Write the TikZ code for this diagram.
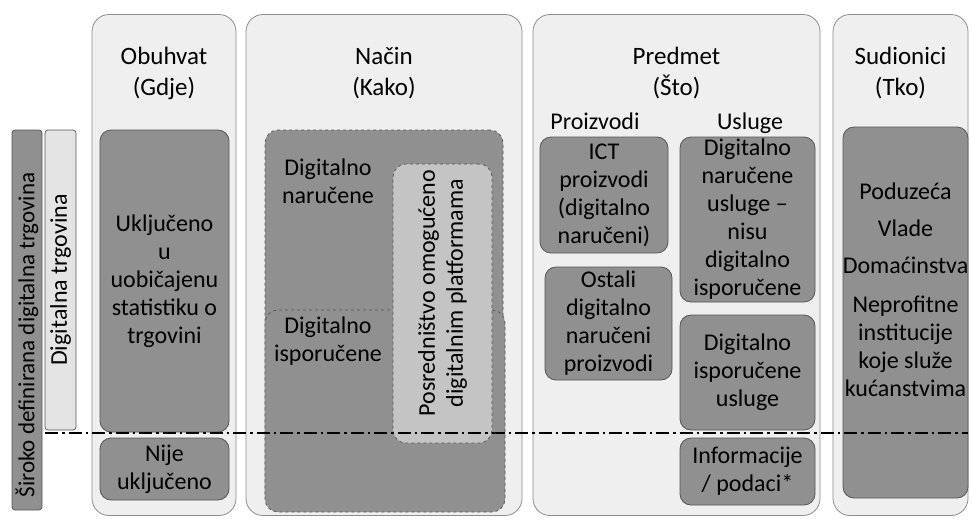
\documentclass[tikz,border=0pt]{standalone}
\usepackage{fontspec}
\setmainfont{Carlito}
\usetikzlibrary{positioning}
\definecolor{panelbg}{HTML}{EFEFEF}
\definecolor{panelline}{HTML}{8C8C8C}
\definecolor{boxdark}{HTML}{909090}
\definecolor{boxline}{HTML}{555555}
\definecolor{boxlight}{HTML}{C4C4C4}
\definecolor{barlight}{HTML}{E4E4E4}
\newcommand{\diagfont}{\fontsize{24}{28}\selectfont}
\newcommand{\headfont}{\fontsize{25}{31}\selectfont}
\tikzset{
  panel/.style={
    rectangle, rounded corners=17pt, draw=panelline, fill=panelbg,
    line width=0.8pt, minimum height=501pt, inner sep=0pt
  },
  catbox/.style={
    rectangle, rounded corners=11pt, draw=boxline, fill=boxdark,
    line width=0.8pt, font=\diagfont, align=center, inner sep=0pt
  },
  waybox/.style={
    rectangle, rounded corners=13pt, draw=boxline, fill=#1,
    line width=0.7pt, dashed, inner sep=0pt
  },
  waybox/.default=boxdark,
  sidebar/.style={
    rectangle, rounded corners=3pt, draw=boxline, fill=#1,
    line width=0.7pt, inner sep=0pt
  },
  sidebar/.default=boxdark,
  heading/.style={font=\headfont, align=center, inner sep=0pt},
  plaintxt/.style={font=\diagfont, align=center, inner sep=0pt},
  cutline/.style={
    line width=1.8pt, dash pattern=on 13pt off 4pt on 2.5pt off 4pt
  },
}

\begin{document}
\begin{tikzpicture}[x=1pt, y=-1pt]
  \useasboundingbox (0,0) rectangle (972,520);

  % lijeve trake
  \node[sidebar, minimum width=30pt, minimum height=380pt] (wideBar) at (27,320) {};
  \node[plaintxt, rotate=90, font=\fontsize{23}{28}\selectfont] (wideTxt) at (27,335)
    {Široko definirana digitalna trgovina};
  \node[sidebar=barlight, rotate=90, minimum width=300pt, minimum height=31pt,
        font=\diagfont] (narrowBar) at (60.5,280) {Digitalna trgovina};

  % stupci
  \node[panel, minimum width=144pt] (colWhere) at (164,265) {};
  \node[panel, minimum width=276pt] (colHow) at (384,265) {};
  \node[panel, minimum width=287pt] (colWhat) at (676.5,265) {};
  \node[panel, minimum width=135pt] (colWho) at (900.5,265) {};

  \node[heading] (hWhere) at (164,73) {Obuhvat\\(Gdje)};
  \node[heading] (hHow) at (384,73) {Način\\(Kako)};
  \node[heading] (hWhat) at (676.5,73) {Predmet\\(Što)};
  \node[heading] (hWho) at (900.5,73) {Sudionici\\(Tko)};

  % Obuhvat
  \node[catbox, minimum width=129pt, minimum height=302pt] (incl) at (164.5,281)
    {Uključeno\\u\\uobičajenu\\statistiku o\\trgovini};
  \node[catbox, minimum width=129pt, minimum height=62pt] (notIncl) at (164.5,469)
    {Nije\\uključeno};

  % Način
  \node[waybox, minimum width=238pt, minimum height=377pt] (ordered) at (384,318.5) {};
  \node[waybox, minimum width=240pt, minimum height=202pt] (delivered) at (385,411) {};
  \node[waybox=boxlight, minimum width=99pt, minimum height=279pt] (platform) at (442.5,303.5) {};
  \node[plaintxt] (orderedTxt) at (328,181) {Digitalno\\naručene};
  \node[plaintxt] (deliveredTxt) at (328,341) {Digitalno\\isporučene};
  \node[plaintxt, rotate=90] (platformTxt) at (442.5,293)
    {Posredništvo omogućeno\\digitalnim platformama};

  % Predmet
  \node[plaintxt, anchor=base] (goodsHd) at (595,129) {Proizvodi};
  \node[plaintxt, anchor=base] (servHd) at (750,129) {Usluge};
  \node[catbox, minimum width=128pt, minimum height=116pt] (ictGoods) at (604,195)
    {ICT\\proizvodi\\(digitalno\\naručeni)};
  \node[catbox, minimum width=127pt, minimum height=113pt] (otherGoods) at (608.5,323.5)
    {Ostali\\digitalno\\naručeni\\proizvodi};
  \node[catbox, minimum width=135pt, minimum height=165pt] (servOrd) at (747.5,219.5)
    {Digitalno\\naručene\\usluge –\\nisu\\digitalno\\isporučene};
  \node[catbox, minimum width=135pt, minimum height=115pt] (servDel) at (747.5,372.5)
    {Digitalno\\isporučene\\usluge};
  \node[catbox, minimum width=135pt, minimum height=67pt] (info) at (747.5,471.5)
    {Informacije\\/ podaci*};

  % Sudionici
  \node[catbox, minimum width=125pt, minimum height=371pt] (actors) at (905.5,312.5) {};
  \node[plaintxt] (actorsTxt) at (905.5,290)
    {Poduzeća\\[9pt]Vlade\\[9pt]Domaćinstva\\[11pt]Neprofitne\\institucije\\koje služe\\kućanstvima};

  % granica
  \coordinate (cutL) at (45,433);
  \coordinate (cutR) at (968,433);
  \draw[cutline] (cutL) -- (cutR);
\end{tikzpicture}
\end{document}
